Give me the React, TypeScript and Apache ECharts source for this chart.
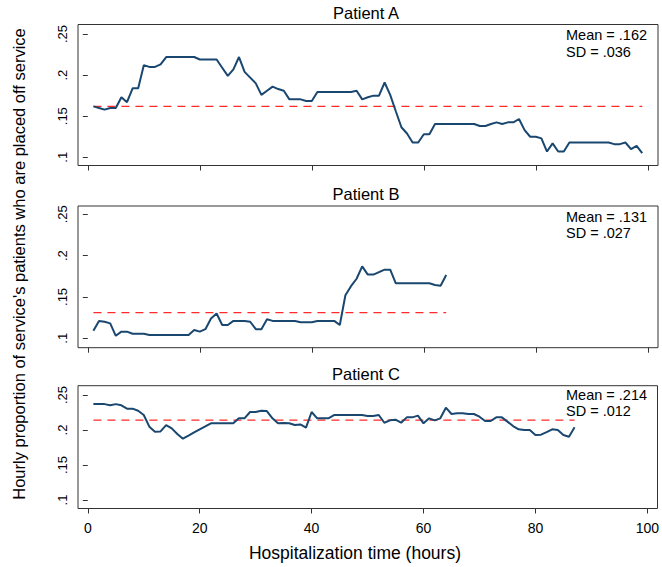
import React, { useEffect, useRef } from "react";
import * as echarts from "echarts";

const FONT = '"Liberation Sans", Arial, sans-serif';

const panelTitles = ["Patient A", "Patient B", "Patient C"];
const meanLabels = ["Mean = .162", "Mean = .131", "Mean = .214"];
const sdLabels = ["SD = .036", "SD = .027", "SD = .012"];
const means = [0.162, 0.131, 0.214];

const xTicks = [0, 20, 40, 60, 80, 100];
const yTicks = [0.1, 0.15, 0.2, 0.25];

// Hourly values, hour 1..N
const valuesA = [
  0.162, 0.160, 0.158, 0.160, 0.160, 0.173, 0.167, 0.184, 0.184, 0.212,
  0.210, 0.210, 0.213, 0.222, 0.222, 0.222, 0.222, 0.222, 0.222, 0.219,
  0.219, 0.219, 0.219, 0.209, 0.199, 0.207, 0.222, 0.204, 0.197, 0.190,
  0.176, 0.181, 0.186, 0.183, 0.181, 0.1705, 0.1705, 0.1705, 0.1685, 0.1685,
  0.1795, 0.1795, 0.1795, 0.1795, 0.1795, 0.1795, 0.1795, 0.181, 0.1705, 0.173,
  0.175, 0.175, 0.191, 0.176, 0.156, 0.1365, 0.129, 0.118, 0.118, 0.128,
  0.128, 0.1405, 0.1405, 0.1405, 0.1405, 0.1405, 0.1405, 0.1405, 0.1405, 0.138,
  0.138, 0.1405, 0.1425, 0.1405, 0.1425, 0.1425, 0.1466, 0.133, 0.125, 0.125,
  0.123, 0.107, 0.117, 0.107, 0.107, 0.118, 0.118, 0.118, 0.118, 0.118,
  0.118, 0.118, 0.118, 0.116, 0.116, 0.118, 0.110, 0.114, 0.105,
];

const valuesB = [
  0.109, 0.121, 0.120, 0.118, 0.103, 0.108, 0.108, 0.1055, 0.1055, 0.1055,
  0.104, 0.104, 0.104, 0.104, 0.104, 0.104, 0.104, 0.104, 0.110, 0.108,
  0.111, 0.124, 0.130, 0.116, 0.116, 0.121, 0.121, 0.121, 0.120, 0.111,
  0.111, 0.123, 0.121, 0.121, 0.121, 0.121, 0.121, 0.1195, 0.1195, 0.1195,
  0.121, 0.121, 0.121, 0.121, 0.116, 0.152, 0.163, 0.172, 0.187, 0.177,
  0.177, 0.180, 0.183, 0.183, 0.1665, 0.1665, 0.1665, 0.1665, 0.1665, 0.1665,
  0.1665, 0.1645, 0.1636, 0.1765,
];

const valuesC = [
  0.237, 0.237, 0.237, 0.2353, 0.237, 0.2353, 0.2305, 0.2305, 0.2276, 0.2214,
  0.2048, 0.1976, 0.198, 0.2071, 0.2024, 0.1943, 0.1876, 0.192, 0.1965, 0.201,
  0.2052, 0.2096, 0.2096, 0.2096, 0.2096, 0.2096, 0.2167, 0.2167, 0.2257, 0.2257,
  0.2276, 0.227, 0.2167, 0.2096, 0.21, 0.2096, 0.2071, 0.208, 0.2033, 0.2257,
  0.2167, 0.2167, 0.2167, 0.2214, 0.2214, 0.2214, 0.2214, 0.2214, 0.2214, 0.22,
  0.22, 0.2214, 0.2104, 0.2138, 0.2148, 0.2104, 0.2181, 0.2181, 0.2205, 0.2096,
  0.2167, 0.2138, 0.2167, 0.2319, 0.2229, 0.2238, 0.2238, 0.2229, 0.2229, 0.219,
  0.2129, 0.2129, 0.2181, 0.2181, 0.212, 0.2057, 0.201, 0.200, 0.200, 0.1929,
  0.1933, 0.197, 0.201, 0.200, 0.1929, 0.1905, 0.2038,
];

const allValues = [valuesA, valuesB, valuesC];

// layout (pixels)
const gridTops = [24.5, 206, 385.7];
const gridHeights = [141, 141.7, 122.8];
const yMins = [0.09, 0.0886, 0.0879];
const yMaxs = [0.2616, 0.26, 0.2633];
const titleYs = [12.5, 194, 373.5];
const meanYs = [35, 216.5, 394.5];
const sdYs = [51.5, 233, 411];

const X_MIN = -1.75;
const X_MAX = 101.82;

export default function App() {
  const ref = useRef<HTMLDivElement>(null);
  useEffect(() => {
    if (!ref.current) return;
    const chart = echarts.init(ref.current, null, { renderer: "svg" });
    const grids = gridTops.map((t, i) => ({
      left: 78,
      width: 580,
      top: t,
      height: gridHeights[i],
      show: true,
      borderColor: "#333",
      borderWidth: 1,
      backgroundColor: "#fff",
      containLabel: false,
    }));
    const xAxes = grids.map((_, i) => ({
      type: "value",
      gridIndex: i,
      min: X_MIN,
      max: X_MAX,
      axisLine: { show: false },
      splitLine: { show: false },
      axisTick: {
        show: true,
        inside: false,
        length: 5,
        customValues: xTicks,
        lineStyle: { color: "#333", width: 1 },
      },
      axisLabel: {
        show: i === 2,
        customValues: xTicks,
        margin: 12,
        fontSize: 14,
        color: "#000",
        fontFamily: FONT,
      },
    }));
    const yAxes = grids.map((_, i) => ({
      type: "value",
      gridIndex: i,
      min: yMins[i],
      max: yMaxs[i],
      axisLine: { show: false },
      splitLine: { show: false },
      axisTick: {
        show: true,
        inside: false,
        length: 5,
        customValues: yTicks,
        lineStyle: { color: "#333", width: 1 },
      },
      axisLabel: {
        show: true,
        customValues: yTicks,
        rotate: 90,
        margin: 9,
        fontSize: 13,
        color: "#000",
        fontFamily: FONT,
        formatter: (v: number) => String(Math.round(v * 100) / 100).replace(/^0/, ""),
      },
    }));
    const series: any[] = [];
    allValues.forEach((vals, i) => {
      series.push({
        type: "line",
        xAxisIndex: i,
        yAxisIndex: i,
        data: [
          [1, means[i]],
          [vals.length, means[i]],
        ],
        showSymbol: false,
        symbol: "none",
        lineStyle: { color: "#ff2a2a", width: 1.2, type: [8, 6] },
        z: 2,
        silent: true,
      });
      series.push({
        type: "line",
        xAxisIndex: i,
        yAxisIndex: i,
        data: vals.map((v, k) => [k + 1, v]),
        showSymbol: false,
        symbol: "none",
        lineStyle: { color: "#1a476f", width: 2 },
        z: 3,
        silent: true,
      });
    });
    const graphic: any[] = [];
    panelTitles.forEach((t, i) => {
      graphic.push({
        type: "text",
        x: 366,
        y: titleYs[i],
        style: {
          text: t,
          fontSize: 16.5,
          fill: "#000",
          align: "center",
          verticalAlign: "middle",
          fontFamily: FONT,
        },
      });
      graphic.push({
        type: "text",
        x: 566,
        y: meanYs[i],
        style: {
          text: meanLabels[i],
          fontSize: 14.5,
          fill: "#000",
          align: "left",
          verticalAlign: "middle",
          fontFamily: FONT,
        },
      });
      graphic.push({
        type: "text",
        x: 566,
        y: sdYs[i],
        style: {
          text: sdLabels[i],
          fontSize: 14.5,
          fill: "#000",
          align: "left",
          verticalAlign: "middle",
          fontFamily: FONT,
        },
      });
    });
    graphic.push({
      type: "text",
      x: 355,
      y: 553,
      style: {
        text: "Hospitalization time (hours)",
        fontSize: 17.5,
        fill: "#000",
        align: "center",
        verticalAlign: "middle",
        fontFamily: FONT,
      },
    });
    graphic.push({
      type: "text",
      x: 18.5,
      y: 264,
      rotation: Math.PI / 2,
      style: {
        text: "Hourly proportion of service's patients who are placed off service",
        fontSize: 16.5,
        fill: "#000",
        align: "center",
        verticalAlign: "middle",
        fontFamily: FONT,
      },
    });
    chart.setOption({
      animation: false,
      backgroundColor: "#fff",
      grid: grids,
      xAxis: xAxes,
      yAxis: yAxes,
      series,
      graphic,
    });
    return () => chart.dispose();
  }, []);
  return (
    <div
      ref={ref}
      style={{ position: "absolute", left: 0, top: 0, width: 662, height: 567 }}
    />
  );
}
